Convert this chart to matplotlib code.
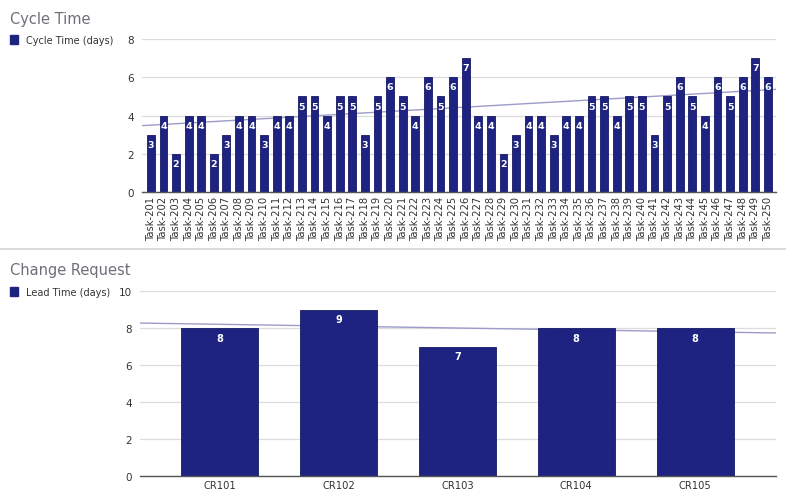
import numpy as np
import matplotlib
matplotlib.use("Agg")
import matplotlib.pyplot as plt
from matplotlib.lines import Line2D
from matplotlib.patches import Rectangle

# data
tasks = ["Task-%d" % n for n in range(201, 251)]
cycle_days = [3, 4, 2, 4, 4, 2, 3, 4, 4, 3,
              4, 4, 5, 5, 4, 5, 5, 3, 5, 6,
              5, 4, 6, 5, 6, 7, 4, 4, 2, 3,
              4, 4, 3, 4, 4, 5, 5, 4, 5, 5,
              3, 5, 6, 5, 4, 6, 5, 6, 7, 6]
cycle_ticks = [0, 2, 4, 6, 8]

change_requests = ["CR101", "CR102", "CR103", "CR104", "CR105"]
lead_days = [8, 9, 7, 8, 8]
lead_ticks = [0, 2, 4, 6, 8, 10]

bar_color = "#1e2381"
trend_color = "#9c9cc9"
title_color = "#6f6f7a"
tick_color = "#333333"

plt.rcParams["font.family"] = ["DejaVu Sans"]

fig = plt.figure(figsize=(7.86, 5.02), dpi=100)


def draw_panel(ax, labels, values, ticks, width, xlim, rot, lab_size, lab_off):
    x = np.arange(len(values))
    ax.bar(x, values, width=width, color=bar_color, edgecolor="#151a66",
           linewidth=0.6, zorder=3)
    for xi, v in zip(x, values):
        ax.annotate(str(v), (xi, v), xytext=(0, lab_off), textcoords="offset points",
                    ha="center", va="center", color="white", fontsize=lab_size,
                    fontweight="bold", zorder=4)
    # linear trend line across the whole plot width, behind the bars
    k, b = np.polyfit(x, values, 1)
    xs = np.array(xlim)
    ax.plot(xs, k * xs + b, color=trend_color, lw=1.0, zorder=2)
    ax.set_xlim(*xlim)
    ax.set_ylim(ticks[0], ticks[-1])
    ax.set_yticks(ticks)
    ax.set_xticks(x)
    ax.set_xticklabels(labels, rotation=rot, fontsize=7.2, color=tick_color)
    ax.tick_params(axis="y", labelsize=7.5, labelcolor=tick_color, length=0, pad=6)
    ax.tick_params(axis="x", length=0, pad=3)
    ax.grid(axis="y", color="#dcdcdc", lw=0.9, zorder=0)
    for s in ["top", "right", "left"]:
        ax.spines[s].set_visible(False)
    ax.spines["bottom"].set_color("#555555")
    ax.spines["bottom"].set_linewidth(1.0)
    ax.spines["bottom"].set_zorder(6)


# ---- Cycle Time ----
ax1 = fig.add_axes([0.1807, 0.6155, 0.8066, 0.3048])
draw_panel(ax1, tasks, cycle_days, cycle_ticks, 0.62, (-0.7, 49.65), 90, 6.8, -7)
fig.text(0.013, 0.962, "Cycle Time", fontsize=10.5, color=title_color, va="center")
fig.patches.append(Rectangle((0.013, 0.911), 0.0105, 0.0165, transform=fig.transFigure,
                             color=bar_color))
fig.text(0.033, 0.919, "Cycle Time (days)", fontsize=7, color=tick_color, va="center")

# divider between the two charts
fig.add_artist(Line2D([0, 1], [0.501, 0.501], color="#d4d4d4", lw=1.2))

# ---- Change Request ----
ax2 = fig.add_axes([0.1781, 0.0498, 0.8092, 0.3685])
draw_panel(ax2, change_requests, lead_days, lead_ticks, 0.65, (-0.67, 4.68), 0, 7, -7)
fig.text(0.013, 0.461, "Change Request", fontsize=10.5, color=title_color, va="center")
fig.patches.append(Rectangle((0.013, 0.409), 0.0105, 0.0165, transform=fig.transFigure,
                             color=bar_color))
fig.text(0.033, 0.417, "Lead Time (days)", fontsize=7, color=tick_color, va="center")

fig.savefig("out.png", dpi=100)
